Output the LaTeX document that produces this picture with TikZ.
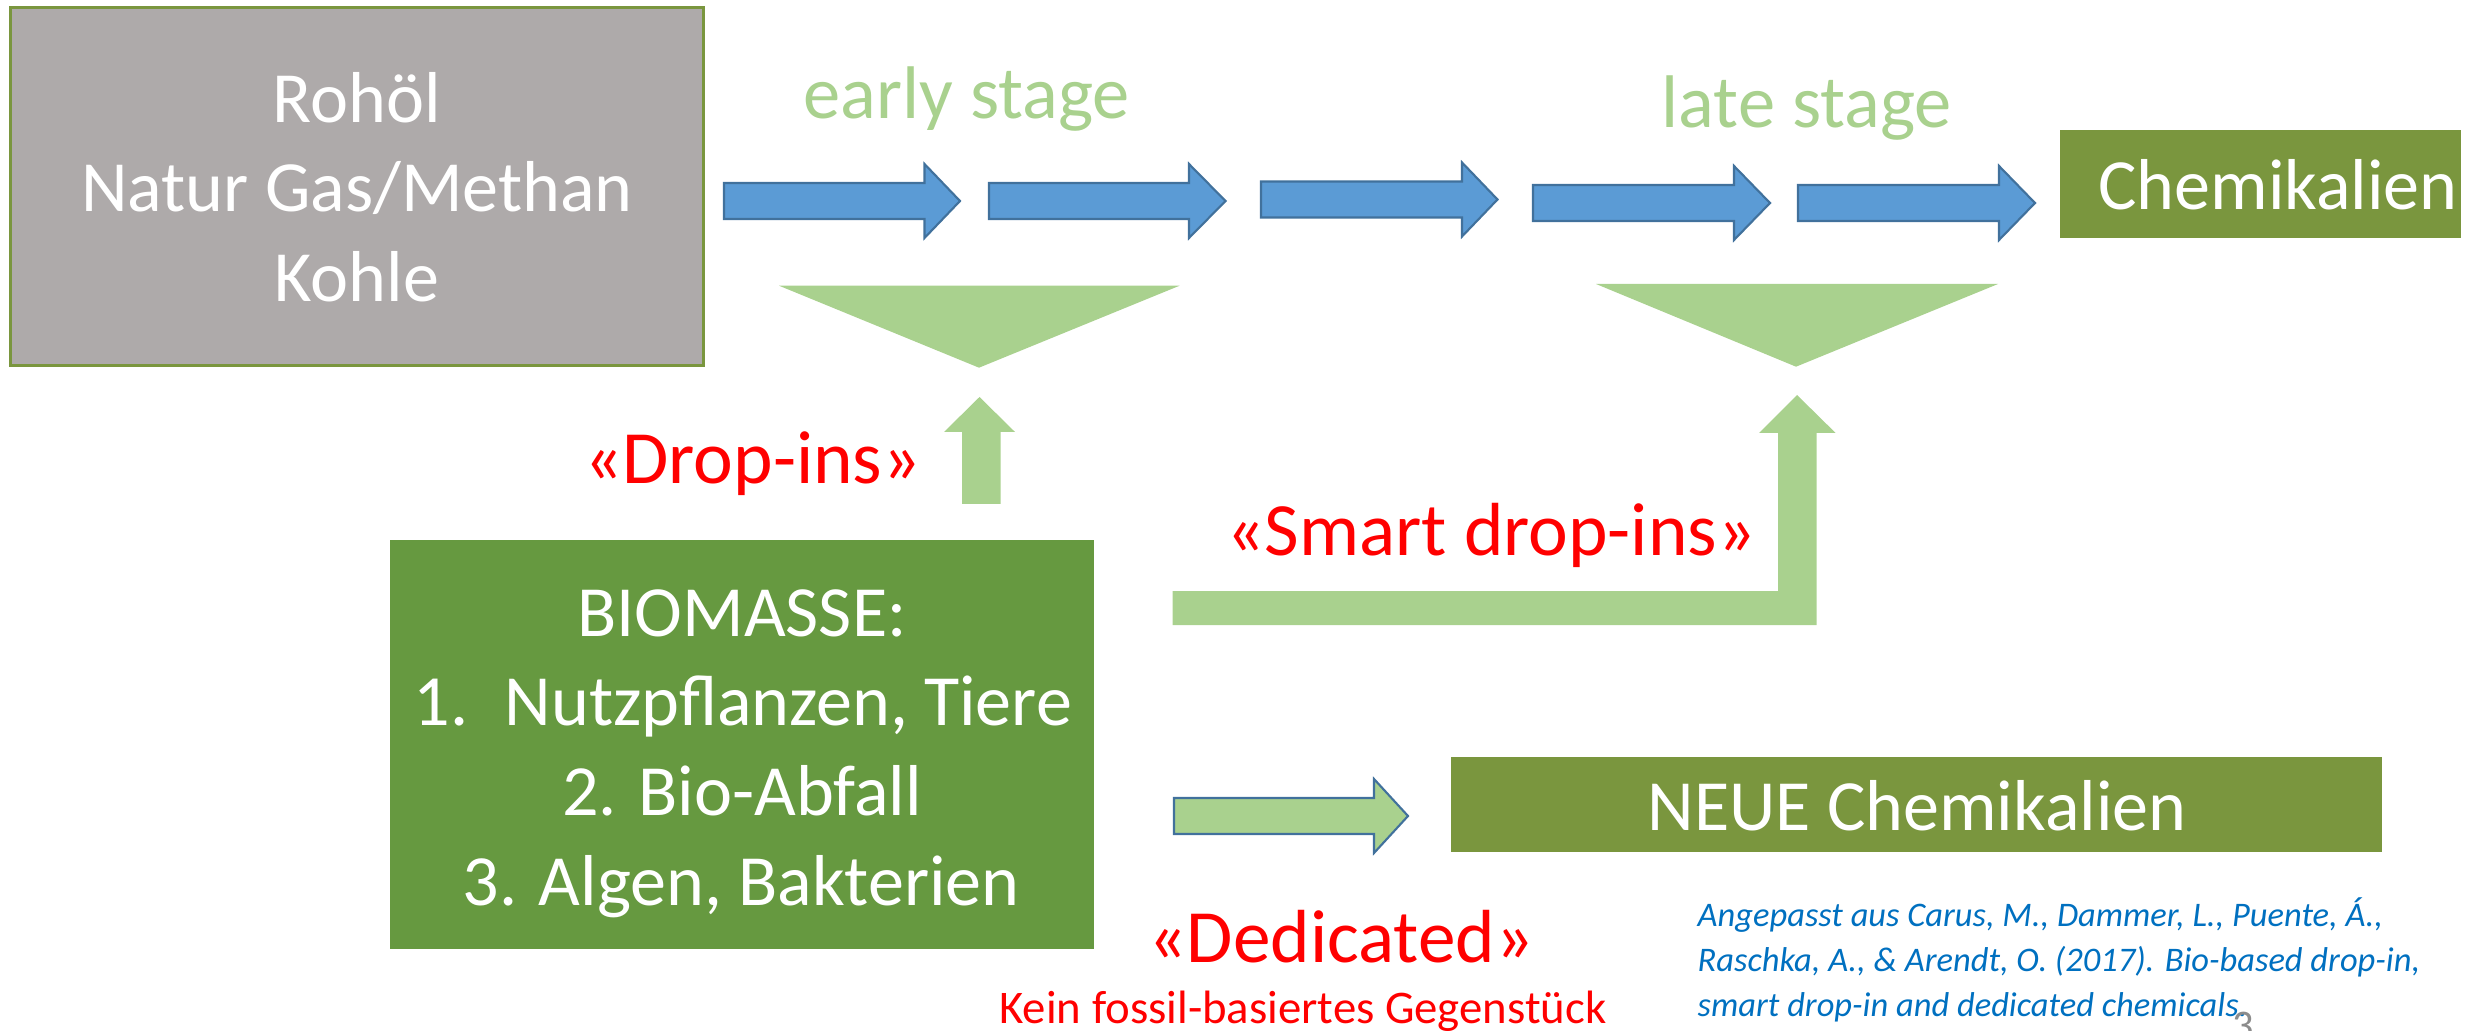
\documentclass[tikz,border=0pt]{standalone}
\usepackage{fontspec}
\setmainfont{Carlito}
\definecolor{grayfill}{HTML}{AEAAAA}
\definecolor{olivebd}{HTML}{7A963E}
\definecolor{biogreen}{HTML}{669940}
\definecolor{chemgreen}{HTML}{7A963E}
\definecolor{lightgreen}{HTML}{A9D18E}
\definecolor{bluefill}{HTML}{5B9BD5}
\definecolor{blueline}{HTML}{41719C}
\definecolor{citeblue}{HTML}{0070C0}
\definecolor{pagegray}{HTML}{8C8C8C}
\newcommand\bigfont{\fontsize{20.5}{25}\selectfont}
\newcommand\stagefont{\fontsize{21.2}{25}\selectfont}
\newcommand\redfont{\fontsize{21.4}{25}\selectfont}
\newcommand\midfont{\fontsize{13.3}{16}\selectfont}
\newcommand\citefont{\fontsize{9.8}{12.8}\selectfont}
\newcommand\blockarrow[5]{% #1 left, #2 head base, #3 tip, #4 centre y, #5 style
  \draw[#5] (#1,#4-18) -- (#2,#4-18) -- (#2,#4-37) -- (#3,#4) -- (#2,#4+37) -- (#2,#4+18) -- (#1,#4+18) -- cycle;}
\begin{document}
\begin{tikzpicture}[x=0.01cm,y=-0.01cm,
  rectbox/.style={rectangle, inner sep=0pt, outer sep=0pt},
  wtxt/.style={inner sep=0pt, anchor=base, font=\bigfont, text=white},
  gtxt/.style={inner sep=0pt, anchor=base, font=\stagefont, text=lightgreen},
  rtxt/.style={inner sep=0pt, anchor=base, font=\redfont, text=red},
  ctxt/.style={inner sep=0pt, anchor=base west, font=\citefont\itshape, text=citeblue},
  bluearrow/.style={fill=bluefill, draw=blueline, line width=0.6pt, line join=miter},
  greenarrow/.style={fill=lightgreen, draw=blueline, line width=0.6pt, line join=miter},
  funnel/.style={fill=lightgreen, draw=none}]
\useasboundingbox (0,0) rectangle (2489,1031);
\clip (0,0) rectangle (2489,1031);

% fossil box
\node[rectbox, fill=grayfill, draw=olivebd, line width=0.8pt,
      minimum width=6.92cm, minimum height=3.57cm] (fossil) at (357,186.5) {};
\node[wtxt] (f1) at (357,122.7) {Rohöl};
\node[wtxt] (f2) at (357,211.7) {Natur Gas/Methan};
\node[wtxt] (f3) at (357,301.7) {Kohle};

% stage labels
\node[gtxt] (early) at (966.7,118.3) {early stage};
\node[gtxt] (late) at (1806.7,127.3) {late stage};

% blue process arrows
\blockarrow{724}{924.5}{960}{201}{bluearrow}
\blockarrow{989}{1189}{1225.5}{201}{bluearrow}
\blockarrow{1261}{1462}{1497.5}{199.5}{bluearrow}
\blockarrow{1533}{1734}{1770}{203}{bluearrow}
\blockarrow{1798}{1999}{2035}{203}{bluearrow}

% Chemikalien box
\node[rectbox, fill=chemgreen, minimum width=4.01cm, minimum height=1.08cm] (chem) at (2260.5,184.3) {};
\node[wtxt] (chemt) at (2278,210) {Chemikalien};

% funnels
\fill[funnel] (779,285.7) -- (1179.6,285.7) -- (979,367.7) -- cycle;
\fill[funnel] (1596,284) -- (1998,284) -- (1796,366.7) -- cycle;

% drop-in up arrow
\fill[funnel] (962,504) -- (962,432) -- (944,432) -- (979.5,397) -- (1015,432) -- (1000.7,432) -- (1000.7,504) -- cycle;
\node[rtxt] (dropins) at (752.5,483.3) {«Drop-ins»};

% smart drop-in bent arrow
\fill[funnel] (1172.7,591) -- (1778,591) -- (1778,433) -- (1759,433) -- (1797,395) -- (1835.6,433) -- (1816.5,433) -- (1816.5,625) -- (1172.7,625) -- cycle;
\node[rtxt] (smart) at (1491,555) {«Smart drop-ins»};

% biomass box
\node[rectbox, fill=biogreen, minimum width=7.04cm, minimum height=4.085cm] (bio) at (742,744.75) {};
\node[wtxt] (b0) at (742,636.7) {BIOMASSE:};
\node[wtxt] (b1) at (743,725) {1.\hspace{0.36cm}Nutzpflanzen, Tiere};
\node[wtxt] (b2) at (742,815) {2. Bio-Abfall};
\node[wtxt] (b3) at (741,905) {3. Algen, Bakterien};

% dedicated arrow
\blockarrow{1174}{1374}{1408}{816}{greenarrow}

% NEUE Chemikalien box
\node[rectbox, fill=chemgreen, minimum width=9.31cm, minimum height=0.956cm] (neue) at (1916.5,804.5) {};
\node[wtxt] (neuet) at (1917,830) {NEUE Chemikalien};

% dedicated labels
\node[rtxt] (dedic) at (1341,962.3) {«Dedicated»};
\node[inner sep=0pt, anchor=base, font=\midfont, text=red] (kein) at (1303,1023.3) {Kein fossil-basiertes Gegenstück};

% citation
\node[ctxt] (c1) at (1697,926.7) {Angepasst aus Carus, M., Dammer, L., Puente, Á.,};
\node[ctxt] (c2) at (1697,971.7) {Raschka, A., \& Arendt, O. (2017). Bio-based drop-in,};
\node[ctxt] (c3) at (1697,1016) {smart drop-in and dedicated chemicals.};

% page number (cut off at the lower edge)
\node[inner sep=0pt, anchor=base west, font=\fontsize{12}{14}\selectfont, text=pagegray] (pg) at (2232,1039) {3};
\end{tikzpicture}
\end{document}
